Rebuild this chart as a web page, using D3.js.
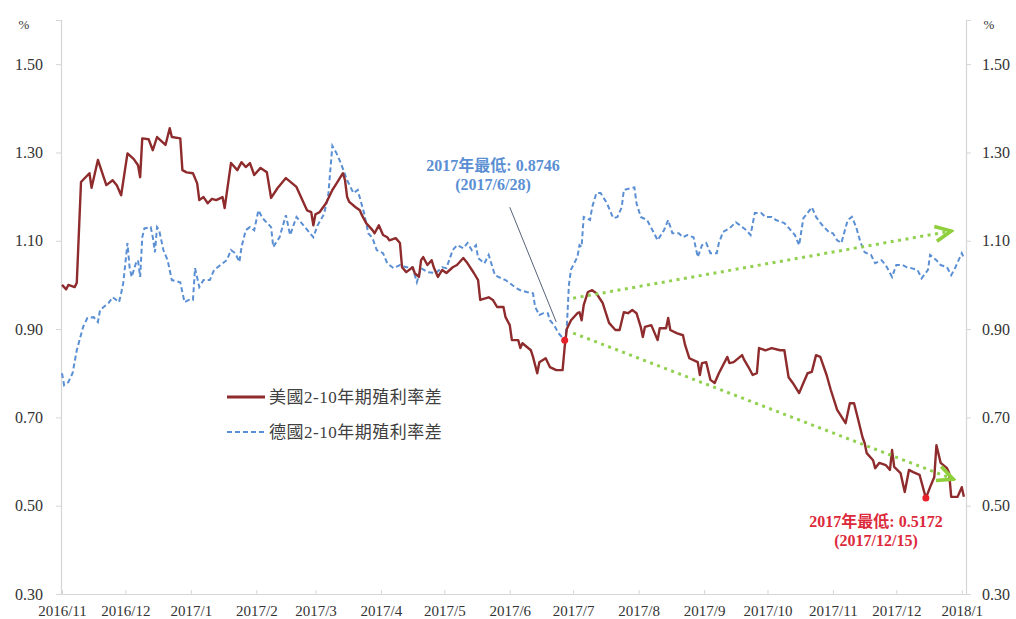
<!DOCTYPE html>
<html><head><meta charset="utf-8">
<script src="https://cdn.jsdelivr.net/npm/d3@7"></script>
<style>
html,body{margin:0;padding:0;background:#fff;}
svg{display:block;}
text{font-family:"Liberation Serif","Noto Sans CJK TC",serif;}
</style></head>
<body>
<svg id="chart" width="1016" height="619"></svg>
<script>
const usSpread = [
["2016-11-01",1.00],["2016-11-03",0.99],["2016-11-04",1.00],["2016-11-07",0.995],["2016-11-08",1.005],
["2016-11-10",1.233],["2016-11-14",1.253],["2016-11-15",1.22],["2016-11-18",1.283],["2016-11-21",1.24],
["2016-11-22",1.226],["2016-11-25",1.237],["2016-11-27",1.225],["2016-11-29",1.203],["2016-12-02",1.298],
["2016-12-05",1.285],["2016-12-07",1.271],["2016-12-08",1.244],["2016-12-09",1.332],["2016-12-12",1.33],
["2016-12-14",1.305],["2016-12-16",1.335],["2016-12-20",1.317],["2016-12-22",1.355],["2016-12-23",1.335],
["2016-12-27",1.332],["2016-12-28",1.26],["2016-12-30",1.255],["2017-01-02",1.253],["2017-01-04",1.23],
["2017-01-05",1.192],["2017-01-07",1.199],["2017-01-09",1.185],["2017-01-11",1.195],["2017-01-13",1.192],
["2017-01-16",1.199],["2017-01-17",1.174],["2017-01-20",1.276],["2017-01-23",1.26],["2017-01-25",1.278],
["2017-01-27",1.267],["2017-01-29",1.276],["2017-01-31",1.249],["2017-02-03",1.265],["2017-02-06",1.255],
["2017-02-08",1.197],["2017-02-11",1.219],["2017-02-15",1.242],["2017-02-20",1.222],["2017-02-23",1.19],
["2017-02-25",1.169],["2017-02-27",1.165],["2017-02-28",1.135],["2017-03-01",1.16],["2017-03-03",1.165],
["2017-03-06",1.185],["2017-03-09",1.215],["2017-03-11",1.23],["2017-03-14",1.253],["2017-03-15",1.237],
["2017-03-16",1.199],["2017-03-17",1.188],["2017-03-20",1.176],["2017-03-22",1.169],["2017-03-23",1.158],
["2017-03-25",1.14],["2017-03-28",1.124],["2017-03-29",1.117],["2017-03-31",1.135],["2017-04-02",1.113],
["2017-04-04",1.108],["2017-04-05",1.101],["2017-04-08",1.106],["2017-04-10",1.095],["2017-04-11",1.04],
["2017-04-13",1.029],["2017-04-16",1.04],["2017-04-17",1.027],["2017-04-19",1.018],["2017-04-20",1.056],
["2017-04-21",1.063],["2017-04-23",1.045],["2017-04-25",1.056],["2017-04-26",1.04],["2017-04-28",1.018],
["2017-04-30",1.034],["2017-05-02",1.027],["2017-05-05",1.04],["2017-05-07",1.045],["2017-05-10",1.061],
["2017-05-12",1.049],["2017-05-15",1.027],["2017-05-17",1.011],["2017-05-18",0.966],["2017-05-22",0.972],
["2017-05-24",0.966],["2017-05-26",0.95],["2017-05-29",0.95],["2017-05-30",0.927],["2017-06-01",0.909],
["2017-06-02",0.875],["2017-06-05",0.875],["2017-06-06",0.857],["2017-06-07",0.868],["2017-06-11",0.852],
["2017-06-12",0.837],["2017-06-14",0.80],["2017-06-15",0.825],["2017-06-18",0.834],["2017-06-20",0.814],
["2017-06-23",0.807],["2017-06-26",0.807],["2017-06-27",0.86],["2017-06-28",0.90],["2017-06-30",0.92],
["2017-07-03",0.936],["2017-07-04",0.938],["2017-07-05",0.92],["2017-07-06",0.954],["2017-07-08",0.984],
["2017-07-10",0.988],["2017-07-12",0.981],["2017-07-15",0.959],["2017-07-18",0.914],["2017-07-21",0.898],
["2017-07-23",0.898],["2017-07-25",0.938],["2017-07-27",0.936],["2017-07-29",0.943],["2017-07-31",0.936],
["2017-08-02",0.905],["2017-08-03",0.882],["2017-08-04",0.905],["2017-08-07",0.909],["2017-08-10",0.875],
["2017-08-11",0.902],["2017-08-14",0.902],["2017-08-15",0.925],["2017-08-16",0.898],["2017-08-19",0.891],
["2017-08-22",0.886],["2017-08-23",0.864],["2017-08-25",0.834],["2017-08-29",0.825],["2017-08-30",0.796],
["2017-08-31",0.823],["2017-09-02",0.825],["2017-09-04",0.785],["2017-09-06",0.778],["2017-09-08",0.80],
["2017-09-12",0.837],["2017-09-13",0.823],["2017-09-15",0.825],["2017-09-19",0.841],["2017-09-20",0.83],
["2017-09-22",0.814],["2017-09-24",0.796],["2017-09-26",0.80],["2017-09-27",0.857],["2017-09-30",0.852],
["2017-10-03",0.857],["2017-10-07",0.852],["2017-10-09",0.852],["2017-10-11",0.791],["2017-10-13",0.778],
["2017-10-16",0.755],["2017-10-18",0.778],["2017-10-20",0.80],["2017-10-22",0.803],["2017-10-24",0.841],
["2017-10-26",0.837],["2017-10-29",0.796],["2017-10-31",0.762],["2017-11-03",0.717],["2017-11-07",0.687],
["2017-11-09",0.732],["2017-11-11",0.732],["2017-11-13",0.694],["2017-11-15",0.655],["2017-11-16",0.642],
["2017-11-17",0.619],["2017-11-20",0.603],["2017-11-21",0.585],["2017-11-23",0.597],["2017-11-26",0.592],
["2017-11-28",0.581],["2017-11-29",0.626],["2017-11-30",0.588],["2017-12-03",0.574],["2017-12-05",0.531],
["2017-12-07",0.581],["2017-12-09",0.576],["2017-12-12",0.57],["2017-12-15",0.5172],["2017-12-17",0.542],
["2017-12-19",0.565],["2017-12-20",0.637],["2017-12-22",0.597],["2017-12-25",0.585],["2017-12-26",0.574],
["2017-12-27",0.52],["2017-12-30",0.52],["2018-01-01",0.542],["2018-01-02",0.52]
];
const deSpread = [
["2016-11-01",0.80],["2016-11-02",0.773],["2016-11-04",0.78],["2016-11-06",0.80],["2016-11-08",0.852],
["2016-11-11",0.905],["2016-11-13",0.925],["2016-11-16",0.927],["2016-11-18",0.916],["2016-11-19",0.943],
["2016-11-23",0.959],["2016-11-25",0.972],["2016-11-28",0.961],["2016-11-29",0.981],["2016-11-30",1.004],
["2016-12-02",1.095],["2016-12-03",1.04],["2016-12-04",1.018],["2016-12-06",1.049],["2016-12-07",1.056],
["2016-12-08",1.018],["2016-12-09",1.108],["2016-12-10",1.128],["2016-12-13",1.131],["2016-12-14",1.108],
["2016-12-15",1.074],["2016-12-16",1.131],["2016-12-17",1.124],["2016-12-19",1.079],["2016-12-21",1.056],
["2016-12-23",1.011],["2016-12-27",1.006],["2016-12-29",0.961],["2016-12-31",0.966],["2017-01-02",0.966],
["2017-01-03",1.038],["2017-01-05",0.995],["2017-01-07",1.011],["2017-01-10",1.011],["2017-01-12",1.034],
["2017-01-15",1.045],["2017-01-18",1.056],["2017-01-20",1.079],["2017-01-22",1.072],["2017-01-24",1.052],
["2017-01-25",1.086],["2017-01-27",1.124],["2017-01-29",1.131],["2017-01-31",1.124],["2017-02-02",1.169],
["2017-02-04",1.151],["2017-02-08",1.131],["2017-02-09",1.086],["2017-02-12",1.108],["2017-02-15",1.158],
["2017-02-17",1.113],["2017-02-20",1.154],["2017-02-24",1.131],["2017-02-28",1.108],["2017-03-02",1.135],
["2017-03-05",1.16],["2017-03-07",1.20],["2017-03-09",1.315],["2017-03-11",1.298],["2017-03-13",1.276],
["2017-03-16",1.237],["2017-03-19",1.208],["2017-03-21",1.215],["2017-03-24",1.163],["2017-03-26",1.117],
["2017-03-28",1.106],["2017-03-30",1.079],["2017-04-02",1.072],["2017-04-04",1.049],["2017-04-07",1.038],
["2017-04-10",1.045],["2017-04-13",1.04],["2017-04-16",1.04],["2017-04-18",1.006],["2017-04-20",1.038],
["2017-04-23",1.029],["2017-04-27",1.027],["2017-04-30",1.04],["2017-05-02",1.038],["2017-05-05",1.079],
["2017-05-07",1.09],["2017-05-10",1.083],["2017-05-12",1.095],["2017-05-14",1.079],["2017-05-16",1.09],
["2017-05-17",1.061],["2017-05-20",1.049],["2017-05-22",1.068],["2017-05-25",1.022],["2017-05-28",1.015],
["2017-05-30",1.011],["2017-06-01",1.004],["2017-06-04",0.993],["2017-06-06",0.988],["2017-06-09",0.984],
["2017-06-12",0.981],["2017-06-13",0.95],["2017-06-15",0.932],["2017-06-17",0.936],["2017-06-19",0.936],
["2017-06-20",0.92],["2017-06-22",0.909],["2017-06-24",0.891],["2017-06-27",0.8746],["2017-06-28",0.905],
["2017-06-29",1.0],["2017-06-30",1.035],["2017-07-03",1.063],["2017-07-04",1.09],["2017-07-05",1.086],
["2017-07-06",1.154],["2017-07-09",1.147],["2017-07-10",1.176],["2017-07-12",1.208],["2017-07-14",1.208],
["2017-07-17",1.185],["2017-07-20",1.151],["2017-07-22",1.154],["2017-07-24",1.176],["2017-07-25",1.215],
["2017-07-28",1.219],["2017-07-30",1.221],["2017-07-31",1.185],["2017-08-02",1.154],["2017-08-05",1.147],
["2017-08-08",1.12],["2017-08-10",1.101],["2017-08-13",1.124],["2017-08-15",1.147],["2017-08-17",1.117],
["2017-08-20",1.117],["2017-08-22",1.108],["2017-08-24",1.113],["2017-08-27",1.108],["2017-08-29",1.063],
["2017-08-31",1.09],["2017-09-02",1.095],["2017-09-04",1.072],["2017-09-07",1.072],["2017-09-08",1.095],
["2017-09-10",1.12],["2017-09-13",1.128],["2017-09-16",1.142],["2017-09-18",1.135],["2017-09-21",1.124],
["2017-09-23",1.113],["2017-09-25",1.163],["2017-09-28",1.163],["2017-09-30",1.154],["2017-10-03",1.154],
["2017-10-05",1.147],["2017-10-09",1.14],["2017-10-12",1.124],["2017-10-14",1.113],["2017-10-16",1.09],
["2017-10-18",1.151],["2017-10-20",1.163],["2017-10-22",1.176],["2017-10-24",1.154],["2017-10-27",1.135],
["2017-10-30",1.12],["2017-11-01",1.117],["2017-11-03",1.101],["2017-11-05",1.095],["2017-11-08",1.147],
["2017-11-10",1.154],["2017-11-12",1.131],["2017-11-14",1.097],["2017-11-16",1.074],["2017-11-19",1.068],
["2017-11-21",1.049],["2017-11-24",1.056],["2017-11-26",1.045],["2017-11-29",1.018],["2017-12-01",1.045],
["2017-12-04",1.045],["2017-12-06",1.04],["2017-12-08",1.038],["2017-12-11",1.034],["2017-12-13",1.015],
["2017-12-16",1.034],["2017-12-17",1.068],["2017-12-20",1.056],["2017-12-22",1.045],["2017-12-25",1.04],
["2017-12-27",1.022],["2017-12-29",1.04],["2018-01-01",1.072],["2018-01-02",1.061]
];
const seriesNames = ["美國2-10年期殖利率差", "德國2-10年期殖利率差"];
const yTicks = [0.30, 0.50, 0.70, 0.90, 1.10, 1.30, 1.50];
const xTickDates = ["2016-11-01","2016-12-01","2017-01-01","2017-02-01","2017-03-01","2017-04-01","2017-05-01",
  "2017-06-01","2017-07-01","2017-08-01","2017-09-01","2017-10-01","2017-11-01","2017-12-01","2018-01-01"];
const xTickLabels = ["2016/11","2016/12","2017/1","2017/2","2017/3","2017/4","2017/5","2017/6",
  "2017/7","2017/8","2017/9","2017/10","2017/11","2017/12","2018/1"];
const deLow = {date:"2017-06-27", value:0.8746, label:["2017年最低: 0.8746","(2017/6/28)"]};
const usLow = {date:"2017-12-15", value:0.5172, label:["2017年最低: 0.5172","(2017/12/15)"]};
const trendUp = [["2017-07-01",0.970],["2017-12-27",1.122]];
const trendDown = [["2017-07-01",0.891],["2017-12-28",0.560]];
const pointer = [["2017-06-01",1.176],["2017-06-23",0.916]];

const parse = d3.timeParse("%Y-%m-%d");
const svg = d3.select("#chart");
const x = d3.scaleTime().domain([parse("2016-11-01"), parse("2018-01-03")]).range([62, 966]);
const y = d3.scaleLinear().domain([0.3, 1.6]).range([594, 20]);

const axisColor = "#d6d6d6", textColor = "#333";

// axes
const yl = svg.append("g").attr("transform","translate(61,0)")
  .call(d3.axisLeft(y).tickValues(yTicks).tickFormat(d3.format(".2f")).tickSize(5).tickPadding(13));
const yr = svg.append("g").attr("transform","translate(966,0)")
  .call(d3.axisRight(y).tickValues(yTicks).tickFormat(d3.format(".2f")).tickSize(5).tickPadding(11));
const xa = svg.append("g").attr("transform","translate(0,594)")
  .call(d3.axisBottom(x).tickValues(xTickDates.map(parse))
    .tickFormat((d,i)=>xTickLabels[i]).tickSizeInner(-4).tickSizeOuter(0).tickPadding(11));
[yl,yr,xa].forEach(g=>{
  g.select(".domain").attr("stroke",axisColor).attr("stroke-width",1.2);
  g.selectAll(".tick line").attr("stroke",axisColor);
  g.selectAll(".tick text").attr("fill",textColor).style("font-size","16px")
    .style("font-family",'"Liberation Serif",serif');
});
xa.selectAll(".tick text").style("font-size","15px");
svg.append("text").attr("x",24).attr("y",29).attr("text-anchor","middle")
  .attr("fill",textColor).style("font-size","13px").text("%");
svg.append("text").attr("x",989).attr("y",29).attr("text-anchor","middle")
  .attr("fill",textColor).style("font-size","13px").text("%");

const line = d3.line().x(d=>x(parse(d[0]))).y(d=>y(d[1]));

// green trend arrows
const defs = svg.append("defs");
defs.append("marker").attr("id","chev").attr("viewBox","0 0 12 12")
  .attr("refX",10.5).attr("refY",6).attr("markerWidth",20).attr("markerHeight",20)
  .attr("markerUnits","userSpaceOnUse").attr("orient","auto")
  .append("path").attr("d","M1,1.5 L10.5,6 L1,10.5").attr("fill","none")
  .attr("stroke","#8fcf3c").attr("stroke-width",2.2).attr("stroke-linejoin","miter");

// series
svg.append("path").datum(deSpread).attr("d",line).attr("fill","none")
  .attr("stroke","#5b8fd3").attr("stroke-width",2).attr("stroke-dasharray","5,3");
svg.append("path").datum(usSpread).attr("d",line).attr("fill","none")
  .attr("stroke","#8e2b2c").attr("stroke-width",2.4).attr("stroke-linejoin","round");

[trendUp, trendDown].forEach(t=>{
  svg.append("path").datum(t).attr("d",line).attr("fill","none")
    .attr("stroke","#92d050").attr("stroke-width",3).attr("stroke-dasharray","3,4.5")
    .attr("marker-end","url(#chev)");
});

// pointer line
svg.append("path").datum(pointer).attr("d",line).attr("fill","none")
  .attr("stroke","#55627a").attr("stroke-width",1);

// low markers
[deLow, usLow].forEach(p=>{
  svg.append("circle").attr("cx",x(parse(p.date))).attr("cy",y(p.value)).attr("r",3.5).attr("fill","#e8202a");
});

// annotation texts
function label(p, cx, by, color){
  p.label.forEach((t,i)=>{
    svg.append("text").attr("x",cx).attr("y",by+i*19).attr("text-anchor","middle")
      .attr("fill",color).style("font-size","16px").style("font-weight","bold").text(t);
  });
}
label(deLow, 493, 171, "#5b8fd3");
label(usLow, 876, 527, "#dc2a3c");

// legend
const lg = svg.append("g");
lg.append("line").attr("x1",227).attr("x2",265).attr("y1",397).attr("y2",397)
  .attr("stroke","#8e2b2c").attr("stroke-width",3);
lg.append("line").attr("x1",227).attr("x2",265).attr("y1",432).attr("y2",432)
  .attr("stroke","#5b8fd3").attr("stroke-width",2).attr("stroke-dasharray","5,3");
seriesNames.forEach((n,i)=>{
  lg.append("text").attr("x",269).attr("y",403+i*35).attr("fill","#404040")
    .style("font-size","17px").style("letter-spacing","0.5px").text(n);
});
</script>
</body></html>
